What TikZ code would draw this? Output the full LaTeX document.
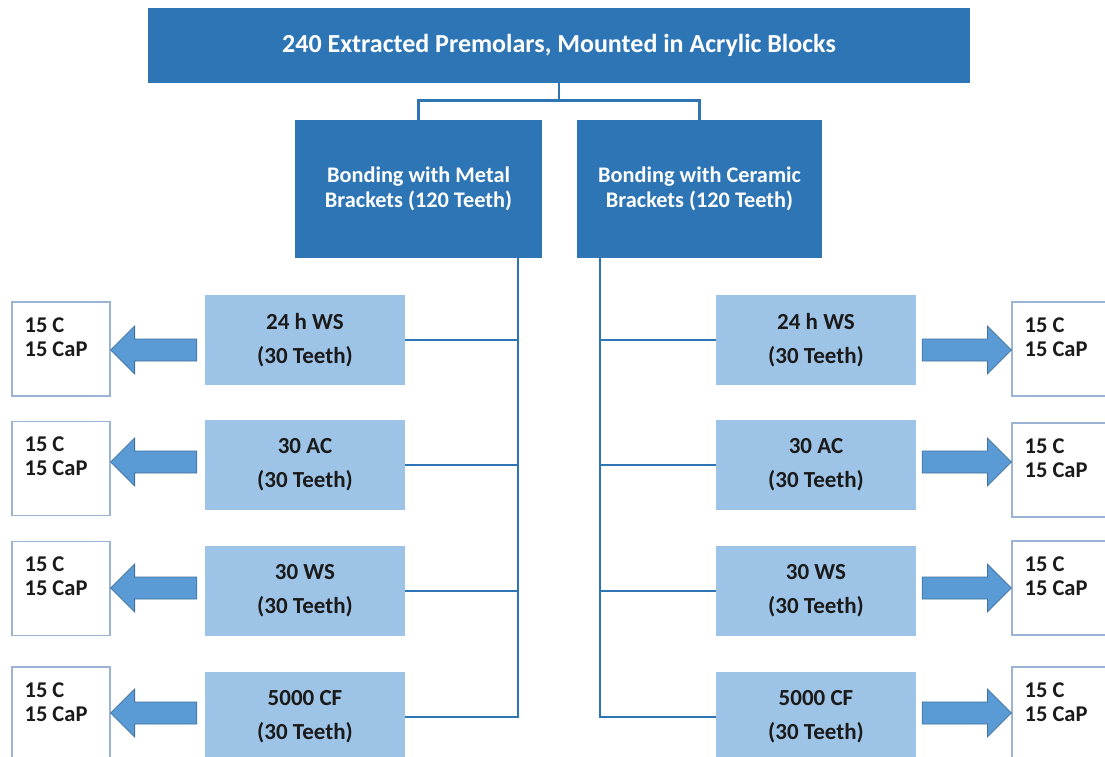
\documentclass[tikz,border=0pt]{standalone}
\usepackage{fontspec}
\setmainfont{Carlito}
\usetikzlibrary{calc}
\definecolor{dblue}{HTML}{2E75B6}
\definecolor{lblue}{HTML}{9DC3E6}
\definecolor{ablue}{HTML}{5B9BD5}
\definecolor{aedge}{HTML}{41719C}
\definecolor{wedge}{HTML}{9BB3D4}
\definecolor{txt}{HTML}{1A1A1A}
\tikzset{
  darkbox/.style={fill=dblue, draw=none, inner sep=0pt, text=white, align=center,
    font=\fontsize{22.3}{25}\selectfont\bfseries},
  lightbox/.style={fill=lblue, draw=none, inner sep=0pt, text=txt, align=center,
    minimum width=200pt, minimum height=90pt, font=\fontsize{23}{34}\selectfont\bfseries},
  whitebox/.style={fill=white, draw=wedge, line width=1.2pt, inner sep=0pt,
    minimum width=98pt, minimum height=94pt},
  whitetext/.style={inner sep=0pt, text=txt, align=left, anchor=north west,
    font=\fontsize{22.5}{24}\selectfont\bfseries},
  conn/.style={draw=dblue, line width=2.8pt},
  blockarrow/.style={fill=ablue, draw=aedge, line width=0.8pt, line join=miter}
}
\begin{document}
\begin{tikzpicture}[x=1pt, y=-1pt]
\useasboundingbox (0,0) rectangle (1105,756);
\clip (0,0) rectangle (1105,756);
\fill[white] (0,0) rectangle (1105,756);

% top and middle boxes
\node[darkbox, minimum width=822pt, minimum height=75pt, font=\fontsize{26}{28}\selectfont\bfseries] (top) at (559,45.5)
  {240 Extracted Premolars, Mounted in Acrylic Blocks};
\node[darkbox, minimum width=247pt, minimum height=138pt] (mL) at (418.5,189)
  {Bonding with Metal\\Brackets (120 Teeth)};
\node[darkbox, minimum width=245pt, minimum height=138pt] (mR) at (699.5,189)
  {Bonding with Ceramic\\Brackets (120 Teeth)};

% light blue boxes
\node[lightbox] (s1) at (305,340) {24 h WS\\(30 Teeth)};
\node[lightbox] (s2) at (305,465) {30 AC\\(30 Teeth)};
\node[lightbox] (s3) at (305,591) {30 WS\\(30 Teeth)};
\node[lightbox] (s4) at (305,717) {5000 CF\\(30 Teeth)};
\node[lightbox] (r1) at (816,340) {24 h WS\\(30 Teeth)};
\node[lightbox] (r2) at (816,465) {30 AC\\(30 Teeth)};
\node[lightbox] (r3) at (816,591) {30 WS\\(30 Teeth)};
\node[lightbox] (r4) at (816,717) {5000 CF\\(30 Teeth)};

% white boxes
\node[whitebox] (o1) at (61,349) {};
\node[whitebox] (o2) at (61,468.5) {};
\node[whitebox] (o3) at (61,588.5) {};
\node[whitebox] (o4) at (61,714) {};
\node[whitebox] (p1) at (1061,349) {};
\node[whitebox] (p2) at (1061,470) {};
\node[whitebox] (p3) at (1061,588) {};
\node[whitebox] (p4) at (1061,714) {};
\foreach \b in {o1,o2,o3,o4}{
  \node[whitetext] (\b t) at ([xshift=13pt,yshift=-16pt]\b.north west) {15 C\\15 CaP};
}
\foreach \b in {p1,p2,p3,p4}{
  \node[whitetext] (\b t) at ([xshift=13pt,yshift=-16pt]\b.north west) {15 C\\15 CaP};
}

% connectors
\draw[conn] (top.south) -- ++(0,17) -| (mL.north);
\draw[conn] (top.south) -- ++(0,17) -| (mR.north);
\coordinate (xL) at (518,0);
\coordinate (xR) at (600,0);
\draw[conn] (mL.south -| xL) -- (s4.east -| xL) -- (s4.east);
\draw[conn] (mR.south -| xR) -- (r4.west -| xR) -- (r4.west);
\foreach \b in {s1,s2,s3}{ \draw[conn] (\b.east) -- (\b.east -| xL); }
\foreach \b in {r1,r2,r3}{ \draw[conn] (\b.west) -- (\b.west -| xR); }

% block arrows (left: from light box to white box)
\foreach \s/\o/\y in {s1/o1/350, s2/o2/462, s3/o3/588, s4/o4/713}{
  \coordinate (tipL) at (\o.east |- {(0,\y)});
  \coordinate (tailL) at ([xshift=-8pt]\s.west |- {(0,\y)});
  \path[blockarrow] (tipL) -- ($(tipL)+(24,-24)$) -- ($(tipL)+(24,-11)$)
    -- ($(tailL)+(0,-11)$) -- ($(tailL)+(0,11)$) -- ($(tipL)+(24,11)$)
    -- ($(tipL)+(24,24)$) -- cycle;
}
\foreach \s/\o/\y in {r1/p1/350, r2/p2/462, r3/p3/588, r4/p4/713}{
  \coordinate (tipR) at (\o.west |- {(0,\y)});
  \coordinate (tailR) at ([xshift=6pt]\s.east |- {(0,\y)});
  \path[blockarrow] (tipR) -- ($(tipR)+(-24,-24)$) -- ($(tipR)+(-24,-11)$)
    -- ($(tailR)+(0,-11)$) -- ($(tailR)+(0,11)$) -- ($(tipR)+(-24,11)$)
    -- ($(tipR)+(-24,24)$) -- cycle;
}
\end{tikzpicture}
\end{document}
